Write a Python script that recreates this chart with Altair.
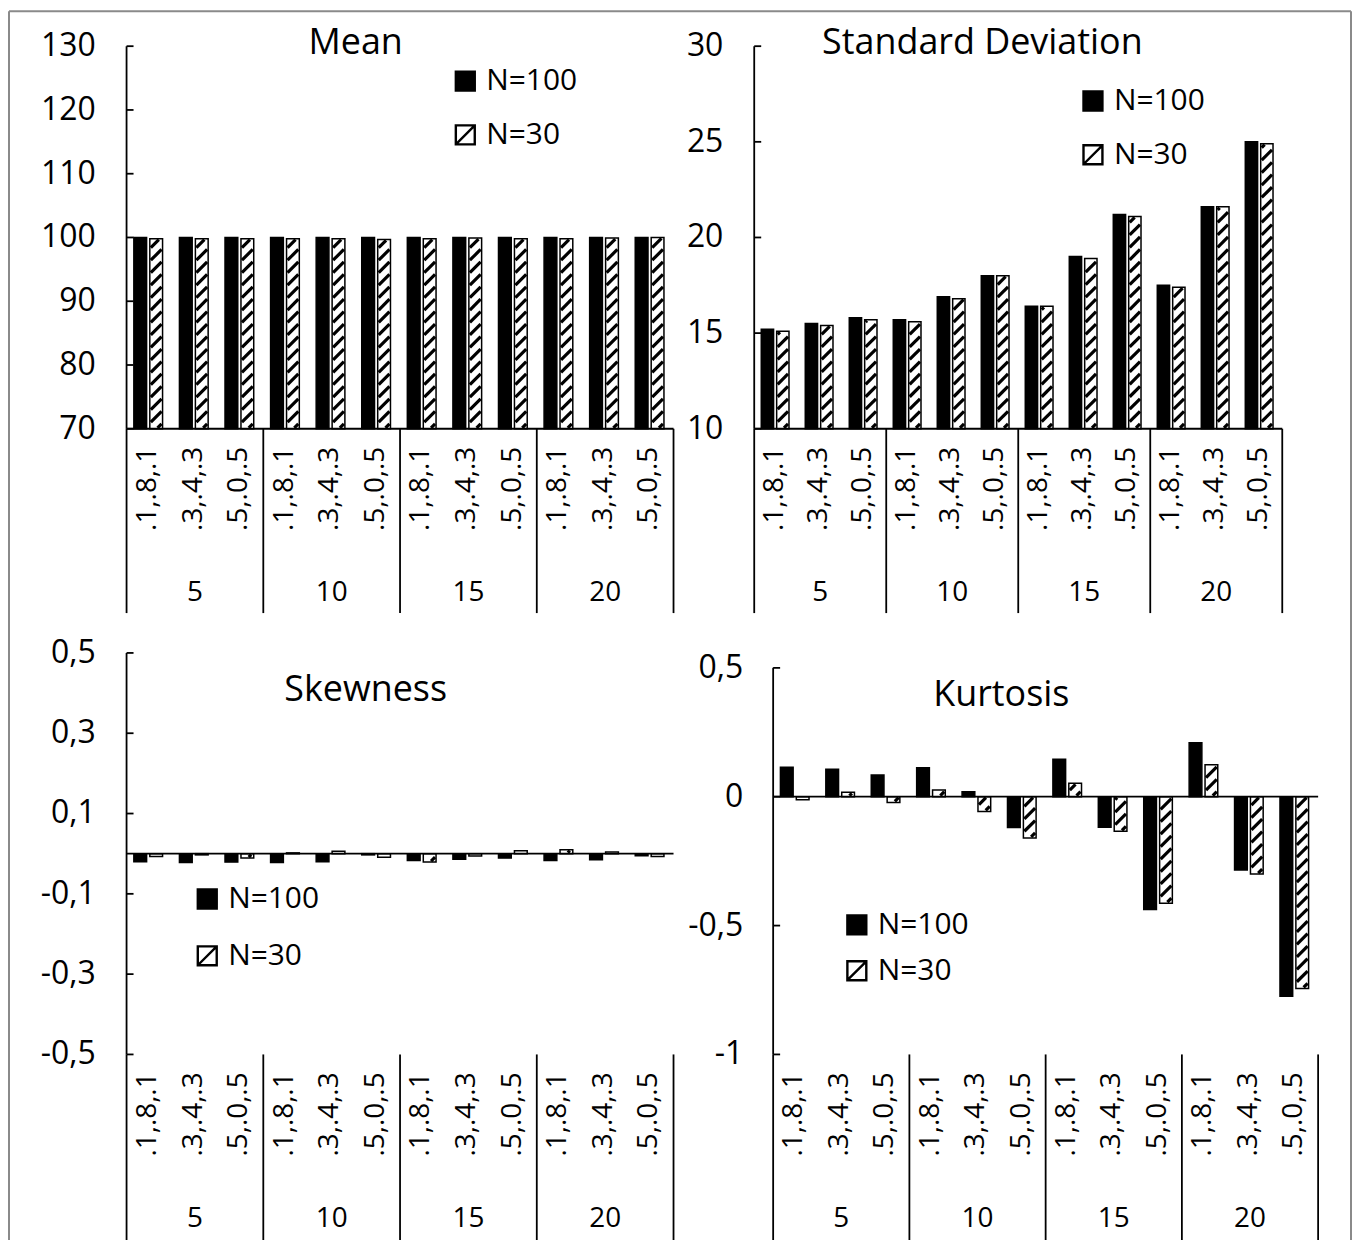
import altair as alt
import pandas as pd

FONT = "Open Sans"

# ---------------- data ----------------
groups = ["5", "10", "15", "20"]
subcats = [".1,.8,.1", ".3,.4,.3", ".5,.0,.5"]
series_names = ["N=100", "N=30"]

mean_n100 = [100.0, 100.0, 100.0, 100.0, 100.0, 100.0, 100.0, 100.0, 100.0, 100.0, 100.0, 100.0]
mean_n30 = [99.8, 99.8, 99.8, 99.8, 99.8, 99.7, 99.8, 99.9, 99.8, 99.8, 99.9, 100.0]

sd_n100 = [15.2, 15.5, 15.8, 15.7, 16.9, 18.0, 16.4, 19.0, 21.2, 17.5, 21.6, 25.0]
sd_n30 = [15.1, 15.4, 15.7, 15.6, 16.8, 18.0, 16.4, 18.9, 21.1, 17.4, 21.6, 24.9]

skew_n100 = [-0.020, -0.022, -0.021, -0.022, -0.020, -0.003, -0.017, -0.014, -0.011, -0.017, -0.015, -0.005]
skew_n30 = [-0.007, -0.003, -0.011, 0.002, 0.006, -0.009, -0.021, -0.006, 0.007, 0.010, 0.004, -0.007]

kurt_n100 = [0.114, 0.107, 0.084, 0.112, 0.019, -0.119, 0.145, -0.118, -0.438, 0.209, -0.284, -0.774]
kurt_n30 = [-0.012, 0.017, -0.022, 0.026, -0.057, -0.160, 0.052, -0.134, -0.413, 0.124, -0.300, -0.744]

mean_ticks = [130, 120, 110, 100, 90, 80, 70]
sd_ticks = [30, 25, 20, 15, 10]
skew_ticks = [0.5, 0.3, 0.1, -0.1, -0.3, -0.5]
kurt_ticks = [0.5, 0, -0.5, -1]

# ---------------- style ----------------
BAR_OFF = {"N=100": 0.16, "N=30": 0.51}
BAR_W = 0.28
HATCH_SPACING = 12.5
LINE_W = 1.8
SYMBOL_PATH = "M-1,-1H1V1H-1Z M-1,1L1,-1"
LABEL_EXPR = "(datum.tv < 0 ? '-' : '') + replace(format(abs(datum.tv), '~g'), '.', ',')"

kurt_slot = 547 / 12.0
kurt_ppy = 388 / 1.5

cfg_mean = dict(w=549, h=384, xdom=[0, 12], ydom=[70, 130], base=70, lp=31,
                leg=(325, 20, 24), title=("Mean", 230, -3), ext=185)
cfg_sd = dict(w=530, h=384, xdom=[0, 12], ydom=[10, 30], base=10, lp=31,
              leg=(325, 40, 24), title=("Standard Deviation", 229, -3), ext=185)
cfg_skew = dict(w=549, h=403, xdom=[0, 12], ydom=[-0.5, 0.5], base=0, lp=31,
                leg=(66, 232, 27), title=("Skewness", 240, 37), ext=200)
cfg_kurt = dict(w=566, h=403, xdom=[-19 / kurt_slot, 12], ydom=[-1, 0.5 + 15 / kurt_ppy], base=0, lp=11,
                leg=(88, 258, 16), title=("Kurtosis", 248, 42), ext=200)


def ppu(cfg):
    ppx = cfg["w"] / (cfg["xdom"][1] - cfg["xdom"][0])
    ppy = cfg["h"] / (cfg["ydom"][1] - cfg["ydom"][0])
    return ppx, ppy


def bar_table(n100, n30):
    rows = []
    for i in range(12):
        rows.append({"idx": i, "series": "N=100", "value": n100[i]})
        rows.append({"idx": i, "series": "N=30", "value": n30[i]})
    return pd.DataFrame(rows)


def hatch_table(n30, cfg):
    ppx, ppy = ppu(cfg)
    inset = 1.0
    w = BAR_W * ppx - 2 * inset
    segs = []
    for i, v in enumerate(n30):
        lo, hi = min(v, cfg["base"]), max(v, cfg["base"])
        h = (hi - lo) * ppy - 2 * inset
        if h <= 2:
            continue
        xl = i + BAR_OFF["N=30"] + inset / ppx
        ylo = lo + inset / ppy
        c = -w + 4.0
        while c < h:
            a = max(0.0, -c)
            b = min(w, h - c)
            if b - a > 1.0:
                segs.append({"hx": xl + a / ppx, "hx2": xl + b / ppx,
                             "hy": ylo + (a + c) / ppy, "hy2": ylo + (b + c) / ppy})
            c += HATCH_SPACING
    return pd.DataFrame(segs)


def panel(n100, n30, ticks, cfg, frame=False):
    W, H = cfg["w"], cfg["h"]
    ppx, ppy = ppu(cfg)
    xs = alt.Scale(domain=cfg["xdom"], nice=False, zero=False)
    ys = alt.Scale(domain=cfg["ydom"], nice=False, zero=False)

    lx, ly, lpad = cfg["leg"]
    bars = alt.Chart(bar_table(n100, n30)).transform_calculate(
        xa=f"datum.idx + (datum.series == 'N=100' ? {BAR_OFF['N=100']} : {BAR_OFF['N=30']})",
        xb=f"datum.xa + {BAR_W}",
        base=str(cfg["base"]),
    ).mark_rect(stroke="black", strokeWidth=1.5).encode(
        x=alt.X("xa:Q", scale=xs, axis=None),
        x2="xb:Q",
        y=alt.Y("value:Q", scale=ys, axis=None),
        y2="base:Q",
        fill=alt.Fill("series:N", scale=alt.Scale(domain=series_names, range=["black", "white"]),
                      legend=alt.Legend(orient="none", legendX=lx, legendY=ly, title=None,
                                        symbolType=SYMBOL_PATH, symbolSize=361,
                                        symbolStrokeColor="black", symbolStrokeWidth=2.4,
                                        symbolOpacity=1, labelFont=FONT, labelFontSize=30,
                                        labelColor="black", labelOffset=6, rowPadding=lpad,
                                        padding=0)),
    )

    layers = [bars]

    hdf = hatch_table(n30, cfg)
    if len(hdf):
        layers.append(alt.Chart(hdf).mark_rule(color="black", strokeWidth=3.2, strokeCap="butt").encode(
            x=alt.X("hx:Q", scale=xs, axis=None), x2="hx2:Q",
            y=alt.Y("hy:Q", scale=ys, axis=None), y2="hy2:Q"))

    # axis lines: vertical value axis and horizontal category axis (crossing at base)
    lines = pd.DataFrame([
        {"lx": 0, "lx2": 0, "ly": min(ticks), "ly2": max(ticks)},
        {"lx": 0, "lx2": 12, "ly": cfg["base"], "ly2": cfg["base"]},
    ])
    layers.append(alt.Chart(lines).mark_rule(color="black", strokeWidth=LINE_W).encode(
        x=alt.X("lx:Q", scale=xs, axis=None), x2="lx2:Q",
        y=alt.Y("ly:Q", scale=ys, axis=None), y2="ly2:Q"))

    # inside ticks + tick labels
    tdf = pd.DataFrame({"tv": ticks, "tx": 0.0, "tx2": 7.0 / ppx})
    layers.append(alt.Chart(tdf).mark_rule(color="black", strokeWidth=LINE_W).encode(
        x=alt.X("tx:Q", scale=xs, axis=None), x2="tx2:Q",
        y=alt.Y("tv:Q", scale=ys, axis=None)))
    layers.append(alt.Chart(tdf).transform_calculate(lab=LABEL_EXPR).mark_text(
        align="right", baseline="middle", font=FONT, fontSize=32, color="black").encode(
        x=alt.value(-cfg["lp"]), y=alt.Y("tv:Q", scale=ys, axis=None), text="lab:N"))

    # group separators below the plot
    sdf = pd.DataFrame({"sx": [3 * g for g in range(len(groups) + 1)]})
    layers.append(alt.Chart(sdf).mark_rule(color="black", strokeWidth=LINE_W).encode(
        x=alt.X("sx:Q", scale=xs, axis=None), y=alt.value(H), y2=alt.value(H + cfg["ext"])))

    # category labels (rotated)
    cdf = pd.DataFrame([{"idx": i, "lab": subcats[i % 3]} for i in range(12)])
    layers.append(alt.Chart(cdf).transform_calculate(cx="datum.idx + 0.47").mark_text(
        angle=270, align="right", baseline="middle", font=FONT, fontSize=28, color="black").encode(
        x=alt.X("cx:Q", scale=xs, axis=None), y=alt.value(H + 18), text="lab:N"))

    # group labels
    gdf = pd.DataFrame([{"g": i, "lab": groups[i]} for i in range(len(groups))])
    layers.append(alt.Chart(gdf).transform_calculate(gx="datum.g * 3 + 1.5").mark_text(
        align="center", baseline="middle", font=FONT, fontSize=28, color="black").encode(
        x=alt.X("gx:Q", scale=xs, axis=None), y=alt.value(H + 165), text="lab:N"))

    # panel title
    t, tx, ty = cfg["title"]
    layers.append(alt.Chart(pd.DataFrame([{"t": t}])).mark_text(
        align="center", baseline="middle", font=FONT, fontSize=36, color="black").encode(
        x=alt.value(tx), y=alt.value(ty), text="t:N"))

    if frame:
        fdf = pd.DataFrame([{"k": 0}])
        fr = alt.Chart(fdf).mark_rule(color="#8a8a8a", strokeWidth=2)
        layers.append(fr.encode(x=alt.value(-118), y=alt.value(-35), y2=alt.value(1215)))
        layers.append(fr.encode(x=alt.value(1229), y=alt.value(-35), y2=alt.value(1215)))
        layers.append(fr.encode(x=alt.value(-118), x2=alt.value(1229), y=alt.value(-35)))

    return alt.layer(*layers).properties(width=W, height=H)


p1 = panel(mean_n100, mean_n30, mean_ticks, cfg_mean, frame=True)
p2 = panel(sd_n100, sd_n30, sd_ticks, cfg_sd)
p3 = panel(skew_n100, skew_n30, skew_ticks, cfg_skew)
p4 = panel(kurt_n100, kurt_n30, kurt_ticks, cfg_kurt)

chart = alt.concat(
    p1, p2, p3, p4, columns=2, bounds="flush", spacing={"row": 225, "column": 81}
).resolve_scale(
    x="independent", y="independent", fill="independent"
).resolve_legend(
    fill="independent"
).properties(
    padding=0, background="white"
).configure_view(stroke=None)

chart.save("out.html", embed_options={"renderer": "svg", "actions": False})
